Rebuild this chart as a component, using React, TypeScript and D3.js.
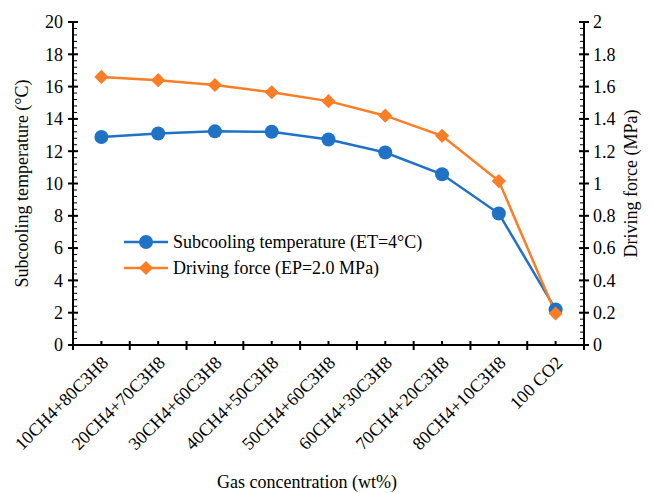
import React from "react";
import * as d3 from "d3";

const categories = [
  "10CH4+80C3H8",
  "20CH4+70C3H8",
  "30CH4+60C3H8",
  "40CH4+50C3H8",
  "50CH4+60C3H8",
  "60CH4+30C3H8",
  "70CH4+20C3H8",
  "80CH4+10C3H8",
  "100 CO2",
];
const subcooling = [12.88, 13.1, 13.23, 13.2, 12.72, 11.92, 10.57, 8.14, 2.2];
const drivingForce = [1.66, 1.64, 1.61, 1.565, 1.51, 1.42, 1.295, 1.015, 0.195];
const leftTicks = [0, 2, 4, 6, 8, 10, 12, 14, 16, 18, 20];
const rightTicks = [0, 0.2, 0.4, 0.6, 0.8, 1, 1.2, 1.4, 1.6, 1.8, 2];
const seriesNames = ["Subcooling temperature (ET=4°C)", "Driving force (EP=2.0 MPa)"];

const W = 651, H = 493;
const L = 73, R = 584, T = 22, B = 345;
const BLUE = "#1f72c6";
const ORANGE = "#fb7d26";
const FONT = '"Liberation Serif", "Times New Roman", serif';
const txt = { fontFamily: FONT, fontSize: 18, fill: "#000" } as React.CSSProperties;

export default function App() {
  const x = d3.scaleBand<string>().domain(categories).range([L, R]).padding(0);
  const yL = d3.scaleLinear().domain([0, 20]).range([B, T]);
  const yR = d3.scaleLinear().domain([0, 2]).range([B, T]);
  const cx = (c: string) => (x(c) as number) + x.bandwidth() / 2;

  const lineL = d3.line<number>().x((_, i) => cx(categories[i])).y((d) => yL(d));
  const lineR = d3.line<number>().x((_, i) => cx(categories[i])).y((d) => yR(d));
  const diamond = d3.symbol().type(d3.symbolSquare).size(100)();

  const minorL = d3.range(0, 20.001, 0.4);
  const minorR = d3.range(0, 2.0001, 0.04);
  const bounds = categories.map((c) => x(c) as number).concat([R]);

  return (
    <div style={{ position: "fixed", left: 0, top: 0, width: W, height: H }}>
      <svg width={W} height={H} style={{ display: "block", background: "#fff" }}>
        <rect x={0} y={0} width={W} height={H} fill="#fff" />
        {/* left axis */}
        <line x1={L} x2={L} y1={T} y2={B} stroke="#000" strokeWidth={2} />
        {minorL.map((v, i) => (
          <line key={"ml" + i} x1={L} x2={L + 4} y1={yL(v)} y2={yL(v)} stroke="#000" strokeWidth={1} />
        ))}
        {leftTicks.map((v) => (
          <g key={"lt" + v}>
            <line x1={L - 5} x2={L + 5} y1={yL(v)} y2={yL(v)} stroke="#000" strokeWidth={2} />
            <text x={L - 10} y={yL(v)} dy="0.35em" textAnchor="end" style={txt}>
              {v}
            </text>
          </g>
        ))}
        {/* right axis */}
        <line x1={R} x2={R} y1={T} y2={B} stroke="#000" strokeWidth={2} />
        {minorR.map((v, i) => (
          <line key={"mr" + i} x1={R - 4} x2={R} y1={yR(v)} y2={yR(v)} stroke="#000" strokeWidth={1} />
        ))}
        {rightTicks.map((v) => (
          <g key={"rt" + v}>
            <line x1={R - 5} x2={R + 5} y1={yR(v)} y2={yR(v)} stroke="#000" strokeWidth={2} />
            <text x={R + 9} y={yR(v)} dy="0.35em" textAnchor="start" style={txt}>
              {d3.format("~g")(+v.toFixed(1))}
            </text>
          </g>
        ))}
        {/* bottom axis */}
        <line x1={L - 1} x2={R + 1} y1={B} y2={B} stroke="#000" strokeWidth={2} />
        {bounds.map((b, i) => (
          <line key={"bt" + i} x1={b} x2={b} y1={B - 4} y2={B + 5} stroke="#000" strokeWidth={2} />
        ))}
        {categories.map((c) => (
          <line key={"ct" + c} x1={cx(c)} x2={cx(c)} y1={B - 4} y2={B} stroke="#000" strokeWidth={2} />
        ))}
        {categories.map((c) => (
          <text
            key={"xl" + c}
            transform={`translate(${cx(c) - 1},${B + 10}) rotate(-45)`}
            textAnchor="end"
            dy="0.7em"
            style={txt}
          >
            {c}
          </text>
        ))}
        {/* series */}
        <path d={lineL(subcooling) || ""} fill="none" stroke={BLUE} strokeWidth={2.5} />
        <path d={lineR(drivingForce) || ""} fill="none" stroke={ORANGE} strokeWidth={2.5} />
        {subcooling.map((v, i) => (
          <circle key={"p" + i} cx={cx(categories[i])} cy={yL(v)} r={7} fill={BLUE} />
        ))}
        {drivingForce.map((v, i) => (
          <path
            key={"d" + i}
            d={diamond || ""}
            transform={`translate(${cx(categories[i])},${yR(v)}) rotate(45)`}
            fill={ORANGE}
          />
        ))}
        {/* legend */}
        {seriesNames.map((n, i) => {
          const ly = 242 + i * 26;
          return (
            <g key={"lg" + i}>
              <line x1={124} x2={168} y1={ly} y2={ly} stroke={i === 0 ? BLUE : ORANGE} strokeWidth={2.5} />
              {i === 0 ? (
                <circle cx={146} cy={ly} r={7} fill={BLUE} />
              ) : (
                <path d={diamond || ""} transform={`translate(146,${ly}) rotate(45)`} fill={ORANGE} />
              )}
              <text x={173} y={ly} dy="0.35em" style={txt}>
                {n}
              </text>
            </g>
          );
        })}
        {/* axis titles */}
        <text transform={`translate(28,${(T + B) / 2}) rotate(-90)`} textAnchor="middle" style={txt}>
          Subcooling temperature (°C)
        </text>
        <text transform={`translate(637,${(T + B) / 2}) rotate(-90)`} textAnchor="middle" style={txt}>
          Driving force (MPa)
        </text>
        <text x={307} y={488} textAnchor="middle" style={txt}>
          Gas concentration (wt%)
        </text>
      </svg>
    </div>
  );
}
